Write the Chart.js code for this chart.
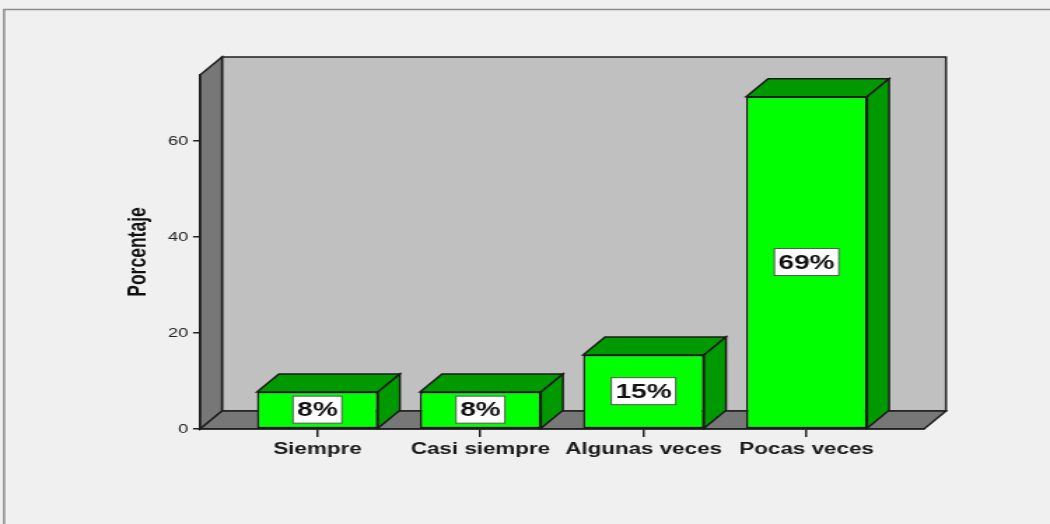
<!DOCTYPE html>
<html lang="es">
<head>
<meta charset="utf-8">
<title>Porcentaje</title>
<script src="https://cdn.jsdelivr.net/npm/chart.js@4.4.0/dist/chart.umd.min.js"></script>
<style>
    html, body { margin: 0; padding: 0; background: #f0f0f0; overflow: hidden; }
    #chart { display: block; }
</style>
</head>
<body>
<!-- the original picture is stretched sideways, so the canvas is drawn narrow and widened by css -->
<canvas id="chart" width="750" height="524" style="width:1050px;height:524px"></canvas>
<script>
const categories = ["Siempre", "Casi siempre", "Algunas veces", "Pocas veces"];
const percentages = [7.7, 7.7, 15.4, 69.2];
const yTicks = [0, 20, 40, 60];

const FONT = '"Liberation Sans", Arial, sans-serif';
const DX = 15.7;   // depth of the 3d boxes, canvas px
const DY = 18;

function poly(ctx, pts, fill) {
    ctx.beginPath();
    ctx.moveTo(pts[0][0], pts[0][1]);
    for (let i = 1; i < pts.length; i++) ctx.lineTo(pts[i][0], pts[i][1]);
    ctx.closePath();
    ctx.fillStyle = fill;
    ctx.fill();
    ctx.stroke();
}

const box3d = {
    id: "box3d",
    beforeDraw(chart) {
        const { ctx, chartArea, width, height } = chart;
        const L = chartArea.left, R = chartArea.right, T = chartArea.top, B = chartArea.bottom;
        ctx.save();
        ctx.fillStyle = "#f0f0f0";
        ctx.fillRect(0, 0, width, height);
        ctx.strokeStyle = "#8c8c8c";
        ctx.lineWidth = 1.5;
        ctx.strokeRect(2.9, 9.5, width + 20, height + 20);

        ctx.strokeStyle = "#1e1e1e";
        ctx.lineJoin = "miter";
        poly(ctx, [[L + DX, T - DY], [R + DX, T - DY], [R + DX, B - DY], [L + DX, B - DY]], "#c0c0c0");
        poly(ctx, [[L, T], [L + DX, T - DY], [L + DX, B - DY], [L, B]], "#777777");
        poly(ctx, [[L, B], [L + DX, B - DY], [R + DX, B - DY], [R, B]], "#777777");
        ctx.restore();
    },
    afterDatasetsDraw(chart) {
        const ctx = chart.ctx;
        const bars = chart.getDatasetMeta(0).data;
        ctx.save();
        ctx.strokeStyle = "#1a1a1a";
        ctx.lineWidth = 1.5;
        ctx.lineJoin = "miter";
        bars.forEach((bar) => {
            const { x, y, base, width } = bar.getProps(["x", "y", "base", "width"], true);
            const l = x - width / 2, r = x + width / 2;
            poly(ctx, [[l, y], [l + DX, y - DY], [r + DX, y - DY], [r, y]], "#009a00");
            poly(ctx, [[r, y], [r + DX, y - DY], [r + DX, base - DY], [r, base]], "#009a00");
        });

        ctx.font = "bold 20px " + FONT;
        ctx.textAlign = "center";
        ctx.textBaseline = "middle";
        bars.forEach((bar, i) => {
            const { x, y, base } = bar.getProps(["x", "y", "base"], true);
            const text = Math.round(percentages[i]) + "%";
            const bw = ctx.measureText(text).width + 6;
            const bh = 27;
            const cy = (y + base) / 2 - 0.5;
            ctx.fillStyle = "#ffffff";
            ctx.fillRect(x - bw / 2, cy - bh / 2, bw, bh);
            ctx.strokeStyle = "#555555";
            ctx.lineWidth = 1;
            ctx.strokeRect(x - bw / 2, cy - bh / 2, bw, bh);
            ctx.fillStyle = "#111111";
            ctx.fillText(text, x, cy + 1);
        });
        ctx.restore();
    }
};

new Chart(document.getElementById("chart"), {
    type: "bar",
    data: {
        datasets: [
            {
                data: percentages.map((v, i) => ({ x: i, y: v })),
                backgroundColor: "#00ff00",
                borderColor: "#1a1a1a",
                borderWidth: 1.5,
                borderSkipped: false,
                categoryPercentage: 1,
                barPercentage: 0.742,
            },
        ],
    },
    options: {
        responsive: false,
        animation: false,
        events: [],
        layout: { padding: { left: 80, top: 75, right: 90, bottom: 0 } },
        plugins: {
            legend: { display: false },
            tooltip: { enabled: false },
        },
        scales: {
            x: {
                type: "linear",
                min: -0.72,
                max: 3.72,
                offset: false,
                afterBuildTicks: (scale) => {
                    scale.ticks = categories.map((c, i) => ({ value: i }));
                },
                afterFit: (scale) => {
                    scale.height = 95;
                },
                grid: { offset: false, drawOnChartArea: false, drawTicks: true, tickLength: 8, color: "#222", lineWidth: 1.5 },
                border: { display: true, color: "#1e1e1e", width: 1.5 },
                ticks: {
                    callback: (v) => categories[v],
                    font: { family: FONT, size: 16, weight: "bold" },
                    color: "#1a1a1a",
                    padding: 3,
                    maxRotation: 0,
                    autoSkip: false,
                },
            },
            y: {
                min: 0,
                max: 73.75,
                afterBuildTicks: (scale) => {
                    scale.ticks = yTicks.map((v) => ({ value: v }));
                },
                afterFit: (scale) => {
                    scale.width = 62.86;
                },
                grid: { drawOnChartArea: false, drawTicks: true, tickLength: 5, color: "#222", lineWidth: 1.5 },
                border: { display: true, color: "#1e1e1e", width: 1.5 },
                ticks: {
                    font: { family: FONT, size: 13 },
                    color: "#222",
                    padding: 3.5,
                },
                title: {
                    display: true,
                    text: "Porcentaje",
                    font: { family: FONT, size: 17.5, weight: "bold" },
                    color: "#111",
                    padding: { top: 9.1, bottom: 0 },
                },
            },
        },
    },
    plugins: [box3d],
});
</script>
</body>
</html>
